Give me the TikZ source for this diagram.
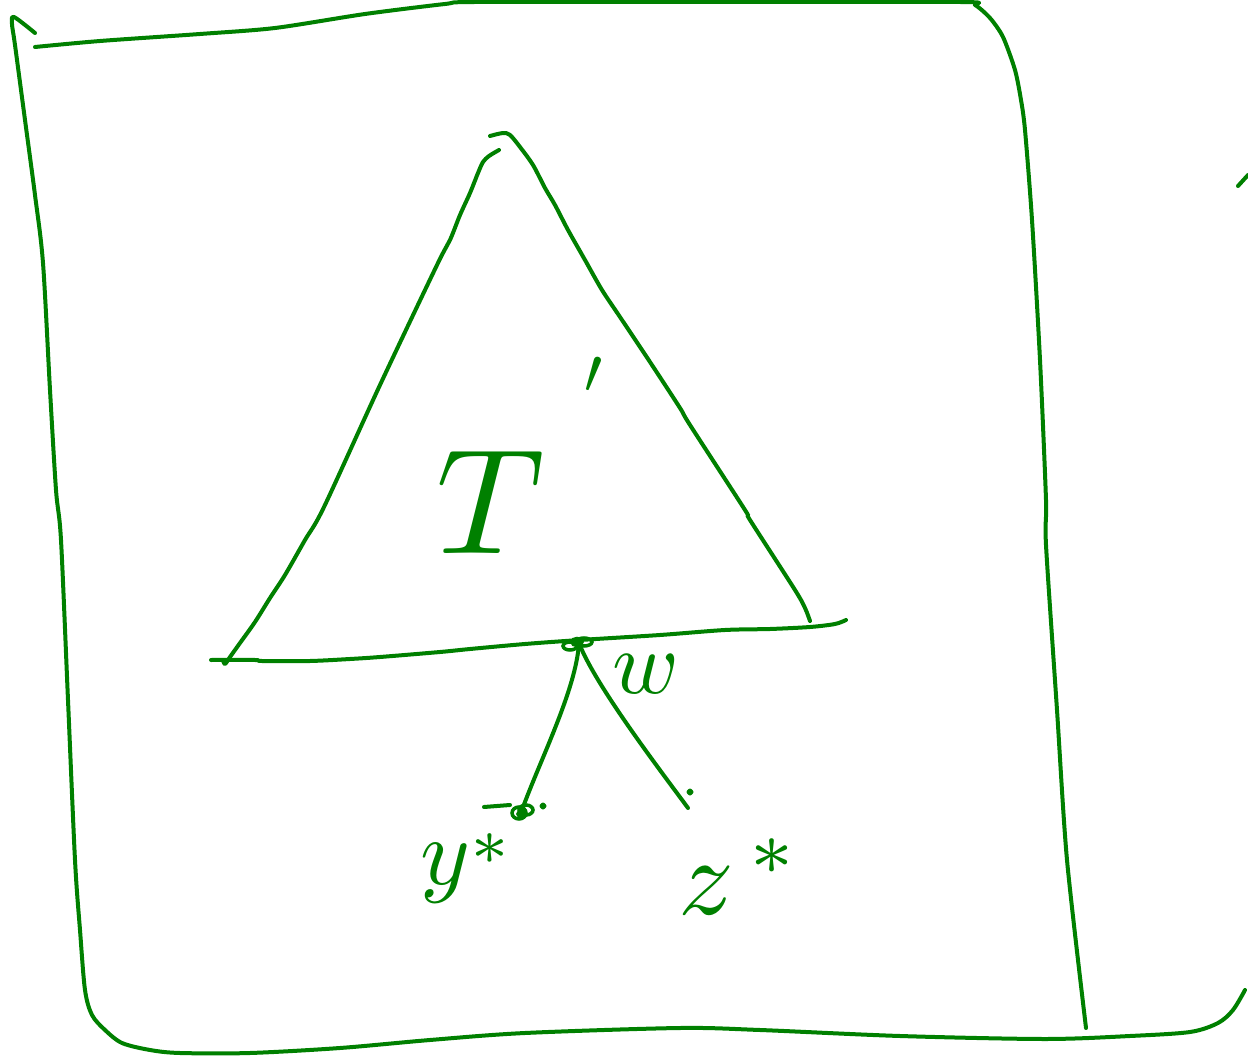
\documentclass[tikz,border=0pt]{standalone}
\definecolor{pen}{RGB}{0,128,0}
\begin{document}
\begin{tikzpicture}[x=1pt,y=-1pt,
  pen/.style={draw=pen, line width=4pt, line cap=round, line join=round},
  knot/.style={draw=pen, line width=3.5pt},
  lbl/.style={text=pen, inner sep=0pt}]
\useasboundingbox (0,0) rectangle (1248,1056);
% outer hand-drawn frame: left/bottom stroke
\draw[pen] plot[smooth, tension=0.5] coordinates {(35,33) (14,17) (12,24) (15,45) (25,120) (35,195) (43,263) (50,390) (56,490) (61,540) (68,700) (75,860) (80,930) (85,990) (92,1015) (105,1030) (122,1043) (150,1050) (180,1053) (250,1053) (340,1048) (430,1040) (525,1033) (680,1028) (760,1030) (900,1036) (1045,1039) (1130,1036) (1190,1032) (1218,1023) (1233,1010) (1245,990)};
% top/right stroke
\draw[pen] plot[smooth, tension=0.45] coordinates {(35,47) (100,41) (200,34) (275,28) (365,14) (445,4) (475,2) (700,2) (960,2) (975,5) (990,18) (1003,37) (1015,70) (1021,100) (1025,130) (1032,220) (1040,360) (1046,500) (1046,545) (1057,710) (1067,860) (1086,1028)};
\draw[pen] (1238,186) -- (1248,175);
% triangle: apex and right side
\draw[pen] plot[smooth, tension=0.5] coordinates {(490,136) (503,133) (510,135) (520,147) (533,165) (545,188) (555,205) (568,230) (585,260) (602,290) (620,317) (650,362) (680,408) (690,425) (745,510) (750,520) (795,590) (805,608) (810,621)};
% left side
\draw[pen] plot[smooth, tension=0.5] coordinates {(499,150) (489,156) (483,162) (478,173) (470,193) (460,215) (450,240) (437,265) (380,385) (324,507) (305,540) (285,575) (270,598) (255,622) (240,643) (230,657) (225,664) (223,660)};
% base
\draw[pen] plot[smooth, tension=0.5] coordinates {(211,660) (255,660) (262,661) (310,661) (350,659) (380,657) (440,652) (470,649) (525,644) (580,640) (660,635) (725,630) (770,629) (810,627) (835,624) (846,620)};
% nodes of the tree
\coordinate (root) at (579,643);
\coordinate (yb) at (522,810);
\coordinate (zend) at (688,808);
\draw[knot] (570,646) ellipse (7 and 4);
\draw[knot] (584,642) ellipse (8 and 4);
\draw[knot] (577,642) ellipse (5 and 3.5);
\draw[knot] (519,813) ellipse (7 and 6);
\draw[knot] (526,810) ellipse (7 and 5);
\draw[knot] (522,814) ellipse (4 and 3);
\draw[pen] (484,807) -- (510,805);
\fill[pen] (543,806) circle (1.5);
\fill[pen] (690,792) circle (1.5);
% edges
\draw[pen] (root) .. controls (576,690) and (540,760) .. (yb);
\draw[pen] (root) .. controls (595,685) and (660,770) .. (zend);
% labels
\node[lbl, anchor=base west] (T) at (436,553) {\scalebox{15}{$T$}\hspace{40pt}\raisebox{160pt}{\scalebox{6.5}{$\prime$}}};
\node[lbl, anchor=base west] (w) at (612,693) {\scalebox{9}{$w$}};
\node[lbl, anchor=base west] (y) at (420,884) {\scalebox{9.5}{$y^{\raisebox{-1.6pt}{$\scriptstyle *$}}$}};
\node[lbl, anchor=base west] (z) at (678,914) {\scalebox{11}{$z^{\,*}$}};
\end{tikzpicture}
\end{document}
